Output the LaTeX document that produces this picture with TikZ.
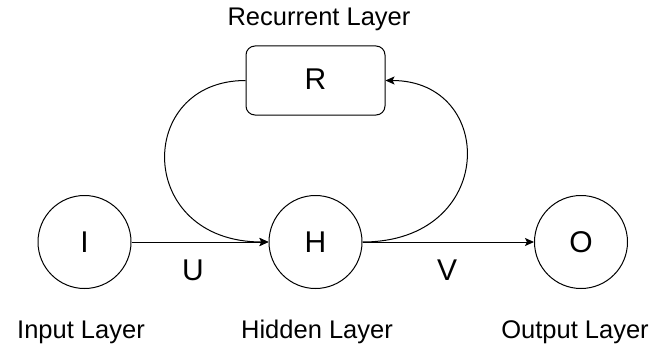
\documentclass[tikz,border=0pt]{standalone}
\usepackage{fontspec}
\setmainfont{Liberation Sans}
\usetikzlibrary{arrows.meta}
\begin{document}
\begin{tikzpicture}[x=1pt,y=-1pt,
  neuron/.style={draw, line width=1pt, circle, minimum size=93pt, inner sep=0pt},
  layerbox/.style={draw, line width=1pt, rectangle, rounded corners=9pt, minimum width=139pt, minimum height=69pt, inner sep=0pt},
  lbl/.style={font=\fontsize{25.5}{30}\selectfont, inner sep=0pt, anchor=base},
  sym/.style={font=\fontsize{30}{34}\selectfont, inner sep=0pt, anchor=base},
  conn/.style={line width=1pt, -{Stealth[length=9pt,width=8pt,inset=2pt]}}]
\useasboundingbox (0,0) rectangle (655,345);
\node[neuron] (I) at (84.5,242) {};
\node[neuron] (H) at (315.5,242) {};
\node[neuron] (O) at (581,242) {};
\node[layerbox] (R) at (315.5,80.5) {};
\node[sym] (It) at (84.5,252.7) {I};
\node[sym] (Ht) at (315.5,252.7) {H};
\node[sym] (Ot) at (581,252.7) {O};
\node[sym] (Rt) at (315.5,89.3) {R};
\node[sym] (U) at (193,280.7) {U};
\node[sym] (V) at (447,280.7) {V};
\node[lbl] (rl) at (319,26) {Recurrent Layer};
\node[lbl] (il) at (81,338) {Input Layer};
\node[lbl] (hl) at (317,338) {Hidden Layer};
\node[lbl] (ol) at (575,338) {Output Layer};
\draw[conn] (I.east) -- (H.west);
\draw[conn] (H.east) -- (O.west);
\draw[conn] (R.west) .. controls (135,80.5) and (135,242) .. (H.west);
\draw[conn] (H.east) .. controls (497,242) and (497,80.5) .. (R.east);
\end{tikzpicture}
\end{document}
